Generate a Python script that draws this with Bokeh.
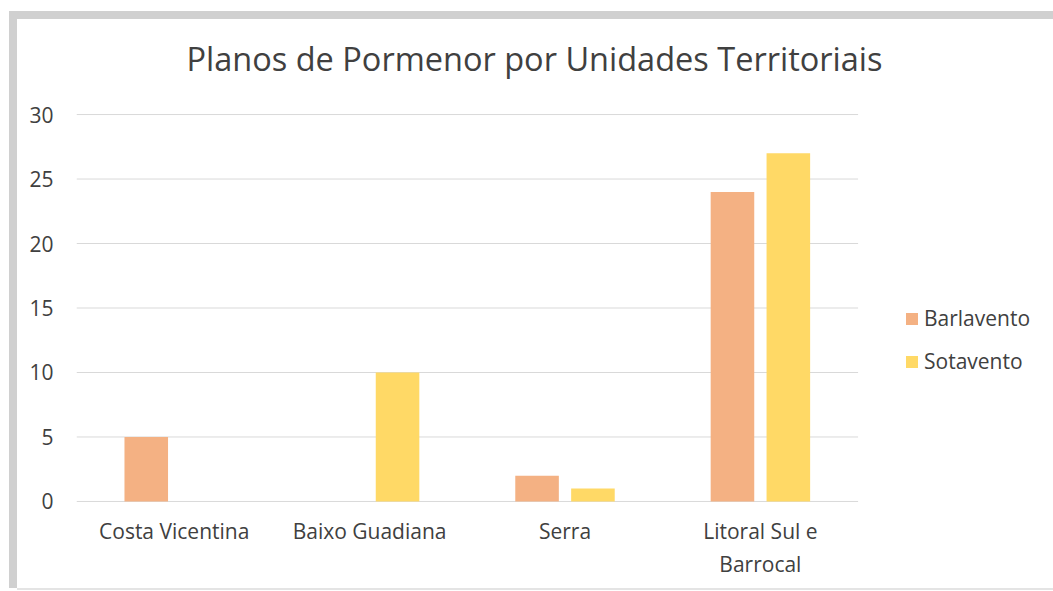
from bokeh.plotting import figure
from bokeh.models import ColumnDataSource, FactorRange, Range1d, Legend, LegendItem, FixedTicker, Title
from bokeh.transform import dodge
from bokeh.embed import file_html
from bokeh.resources import INLINE

categories = ["Costa Vicentina", "Baixo Guadiana", "Serra", "Litoral Sul e\nBarrocal"]
barlavento = [5, 0, 2, 24]
sotavento = [0, 10, 1, 27]
series_names = ["Barlavento", "Sotavento"]
y_ticks = [0, 5, 10, 15, 20, 25, 30]
title_text = "Planos de Pormenor por Unidades Territoriais"

FONT = "Open Sans"
TXT = "#404040"
LEGEND_SLOT = " "  # empty slot on the x range that holds the legend

src = ColumnDataSource(dict(cat=categories, bar=barlavento, sot=sotavento))

p = figure(
    width=1036, height=569,
    x_range=FactorRange(*(categories + [LEGEND_SLOT]), range_padding=0),
    y_range=Range1d(-0.08, 30.08),
    output_backend="svg", toolbar_location=None,
    min_border_left=59, min_border_right=0, min_border_top=94, min_border_bottom=86,
    outline_line_color=None,
)
p.margin = (19, 0, 0, 17)
p.styles = {
    "box-shadow": "-8px -8px 0 0 #d0d0d0, -8px 0 0 0 #d0d0d0, 0 -8px 0 0 #d0d0d0, 0 2px 0 0 #e4e4e4",
}

# spacer between title and plot area (nearest to the frame)
p.add_layout(Title(text=" ", text_font_size="1px", standoff=13), "above")

p.title.text = title_text
p.title.align = "left"
p.title.offset = 110
p.title.vertical_align = "top"
p.title.standoff = 30
p.title.text_font = FONT
p.title.text_font_size = "32.5px"
p.title.text_font_style = "normal"
p.title.text_color = TXT

# horizontal grid lines over the category area only
p.xgrid.grid_line_color = None
p.ygrid.grid_line_color = None
p.segment(x0=[0] * len(y_ticks), x1=[len(categories)] * len(y_ticks), y0=y_ticks, y1=y_ticks,
          line_color="#d9d9d9", line_width=1)

r1 = p.vbar(x=dodge("cat", -0.143, range=p.x_range), top="bar", width=0.223, source=src,
            fill_color="#F4B183", line_color=None)
r2 = p.vbar(x=dodge("cat", 0.143, range=p.x_range), top="sot", width=0.223, source=src,
            fill_color="#FFD966", line_color=None)

p.yaxis.ticker = FixedTicker(ticks=y_ticks)

for ax in (p.xaxis[0], p.yaxis[0]):
    ax.axis_line_color = None
    ax.major_tick_line_color = None
    ax.minor_tick_line_color = None
    ax.major_tick_out = 0
    ax.major_tick_in = 0
    ax.major_label_text_font = FONT
    ax.major_label_text_font_size = "21px"
    ax.major_label_text_color = TXT

p.yaxis.major_label_standoff = 23
p.xaxis.major_label_standoff = 14

legend = Legend(items=[LegendItem(label=series_names[0], renderers=[r1]),
                       LegendItem(label=series_names[1], renderers=[r2])],
                location=(828, 127), orientation="vertical",
                padding=0, margin=0, border_line_color=None, background_fill_alpha=0,
                glyph_width=15, glyph_height=15, label_standoff=5,
                label_text_font=FONT, label_text_font_size="21px", label_text_color=TXT,
                label_height=20, spacing=15)
p.add_layout(legend, "center")

open("out.html", "w").write(file_html(p, INLINE))
